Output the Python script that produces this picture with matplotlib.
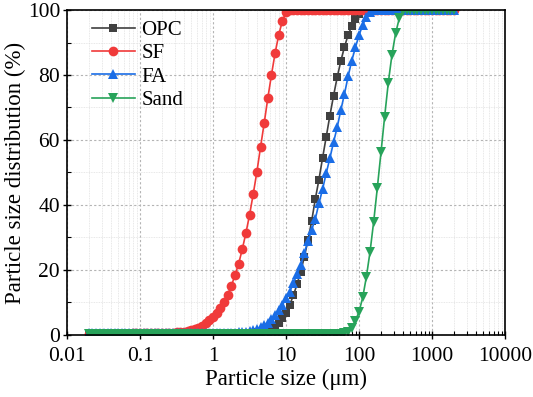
import matplotlib
matplotlib.use('Agg')
import matplotlib.pyplot as plt
from matplotlib.ticker import FixedLocator, FuncFormatter, LogLocator, NullFormatter, MultipleLocator

plt.rcParams['font.family'] = ['Liberation Serif', 'DejaVu Serif']
plt.rcParams['mathtext.fontset'] = 'stix'

# Tamaños de partícula (µm), clases del granulómetro láser
size_um = [
    0.020, 0.022, 0.025, 0.028, 0.032, 0.036, 0.040, 0.045, 0.050, 0.056,
    0.063, 0.071, 0.080, 0.089, 0.100, 0.112, 0.126, 0.142, 0.159, 0.178,
    0.200, 0.224, 0.252, 0.283, 0.317, 0.356, 0.399, 0.448, 0.502, 0.564,
    0.632, 0.710, 0.796, 0.893, 1.002, 1.125, 1.262, 1.416, 1.589, 1.783,
    2.000, 2.244, 2.518, 2.825, 3.170, 3.557, 3.991, 4.477, 5.024, 5.637,
    6.325, 7.096, 7.962, 8.934, 10.024, 11.247, 12.619, 14.159, 15.887, 17.825,
    20.000, 22.440, 25.179, 28.251, 31.698, 35.566, 39.905, 44.774, 50.238, 56.368,
    63.246, 70.963, 79.621, 89.337, 100.237, 112.468, 126.191, 141.589, 158.866, 178.250,
    200.000, 224.404, 251.785, 282.508, 316.979, 355.656, 399.052, 447.744, 502.377, 563.677,
    632.456, 709.627, 796.214, 893.367, 1002.374, 1124.683, 1261.915, 1415.892, 1588.656, 1782.502,
    2000.000,
]

# Distribución acumulada (%)
opc = [
    0.30, 0.30, 0.30, 0.30, 0.30, 0.30, 0.30, 0.30, 0.30, 0.30,
    0.30, 0.30, 0.30, 0.30, 0.30, 0.30, 0.30, 0.30, 0.30, 0.30,
    0.30, 0.30, 0.30, 0.30, 0.30, 0.30, 0.30, 0.30, 0.30, 0.30,
    0.30, 0.30, 0.30, 0.30, 0.30, 0.30, 0.30, 0.30, 0.30, 0.31,
    0.32, 0.35, 0.40, 0.47, 0.56, 0.68, 0.82, 1.00, 1.25, 1.60,
    2.1, 2.8, 3.8, 5.1, 6.9, 9.3, 12.2, 15.6, 19.5, 24.0,
    29.2, 35.0, 41.8, 47.8, 54.5, 61.0, 67.5, 73.6, 79.3, 84.3,
    88.7, 92.3, 95.1, 97.1, 98.8, 99.8, 100, 100, 100, 100,
    100, 100, 100, 100, 100, 100, 100, 100, 100, 100,
    100, 100, 100, 100, 100, 100, 100, 100, 100, 100,
    100,
]
sf = [
    0.40, 0.40, 0.41, 0.41, 0.42, 0.42, 0.43, 0.43, 0.44, 0.44,
    0.45, 0.45, 0.46, 0.47, 0.48, 0.49, 0.50, 0.52, 0.54, 0.56,
    0.59, 0.63, 0.68, 0.74, 0.82, 0.92, 1.06, 1.25, 1.55, 1.9,
    2.3, 2.9, 3.6, 4.5, 5.5, 6.8, 8.3, 10.2, 12.4, 15.1,
    18.4, 21.9, 26.4, 31.4, 37.0, 43.4, 50.2, 57.8, 65.2, 72.9,
    80.1, 86.8, 92.4, 96.7, 99.3, 100, 100, 100, 100, 100,
    100, 100, 100, 100, 100, 100, 100, 100, 100, 100,
    100, 100, 100, 100, 100, 100, 100, 100, 100, 100,
    100, 100, 100, 100, 100, 100, 100, 100, 100, 100,
    100, 100, 100, 100, 100, 100, 100, 100, 100, 100,
    100,
]
fa = [
    0.50, 0.50, 0.50, 0.50, 0.50, 0.50, 0.50, 0.50, 0.50, 0.50,
    0.50, 0.50, 0.50, 0.50, 0.50, 0.50, 0.50, 0.50, 0.50, 0.50,
    0.50, 0.51, 0.51, 0.51, 0.52, 0.52, 0.52, 0.53, 0.53, 0.54,
    0.54, 0.54, 0.55, 0.55, 0.56, 0.58, 0.60, 0.62, 0.65, 0.68,
    0.72, 0.78, 0.85, 0.95, 1.1, 1.4, 1.8, 2.4, 3.0, 3.8,
    4.9, 6.2, 7.7, 9.2, 11.3, 13.3, 15.9, 18.7, 21.5, 25.1,
    28.9, 32.3, 35.7, 40.5, 44.9, 49.8, 54.4, 59.3, 63.9, 69.2,
    74.2, 79.6, 84.4, 88.5, 92.3, 95.4, 97.9, 99.5, 100, 100,
    100, 100, 100, 100, 100, 100, 100, 100, 100, 100,
    100, 100, 100, 100, 100, 100, 100, 100, 100, 100,
    100,
]
sand = [
    0.20, 0.20, 0.20, 0.20, 0.20, 0.20, 0.20, 0.20, 0.20, 0.20,
    0.20, 0.20, 0.20, 0.20, 0.20, 0.20, 0.20, 0.20, 0.20, 0.20,
    0.20, 0.20, 0.20, 0.20, 0.20, 0.20, 0.20, 0.20, 0.20, 0.20,
    0.20, 0.20, 0.20, 0.20, 0.20, 0.20, 0.20, 0.20, 0.20, 0.20,
    0.20, 0.20, 0.20, 0.20, 0.20, 0.20, 0.20, 0.20, 0.20, 0.20,
    0.20, 0.20, 0.20, 0.20, 0.20, 0.20, 0.20, 0.20, 0.20, 0.20,
    0.20, 0.20, 0.20, 0.20, 0.20, 0.20, 0.20, 0.20, 0.22, 0.30,
    0.5, 1.0, 2.3, 4.3, 7.2, 11.6, 17.9, 25.6, 34.9, 45.3,
    56.2, 67.2, 77.6, 86.2, 92.8, 97.4, 99.6, 100, 100, 100,
    100, 100, 100, 100, 100, 100, 100, 100, 100, 100,
    100,
]

labels = ['OPC', 'SF', 'FA', 'Sand']
x_ticks = [0.01, 0.1, 1, 10, 100, 1000, 10000]

fig = plt.figure(figsize=(5.33, 3.97), dpi=100)
ax = fig.add_axes([0.1257, 0.1562, 0.8218, 0.8186])

series = [opc, sf, fa, sand]
colors = ['#404040', '#f03a3a', '#1a6de6', '#27a35a']
markers = ['s', 'o', '^', 'v']
msizes = [6.3, 7.0, 7.0, 7.0]
for y, lab, c, m, ms in zip(series, labels, colors, markers, msizes):
    ax.plot(size_um, y, color=c, marker=m, markersize=ms, lw=1.2,
            markeredgewidth=0, label=lab)

ax.set_xscale('log')
ax.set_xlim(0.01, 10000)
ax.set_ylim(0, 100)
ax.xaxis.set_major_locator(FixedLocator(x_ticks))
ax.xaxis.set_major_formatter(FuncFormatter(lambda v, p: '{:g}'.format(v)))
ax.xaxis.set_minor_locator(LogLocator(base=10, subs=range(2, 10), numticks=20))
ax.xaxis.set_minor_formatter(NullFormatter())
ax.yaxis.set_major_locator(MultipleLocator(20))
ax.yaxis.set_minor_locator(MultipleLocator(10))

ax.grid(True, which='major', color='#b4b4b4', linestyle=(0, (2, 2)), lw=0.8)
ax.grid(True, which='minor', color='#e0e0e0', linestyle=(0, (1, 1)), lw=0.6)
ax.set_axisbelow(True)

ax.tick_params(which='major', direction='inout', length=6, width=1, labelsize=15.5)
ax.tick_params(which='minor', direction='in', length=3, width=0.8)
ax.tick_params(axis='x', which='major', pad=6)
ax.tick_params(axis='y', which='major', pad=2)
for s in ax.spines.values():
    s.set_linewidth(1.2)

ax.set_xlabel('Particle size (μm)', fontsize=16.5, labelpad=2)
ax.set_ylabel('Particle size distribution (%)', fontsize=16.5, labelpad=1)

ax.legend(loc='upper left', bbox_to_anchor=(0.056, 0.968), frameon=False,
          fontsize=15, handlelength=2.1, handletextpad=0.3, labelspacing=0.18,
          borderpad=0, borderaxespad=0, numpoints=1)

fig.savefig('out.png', dpi=100)
